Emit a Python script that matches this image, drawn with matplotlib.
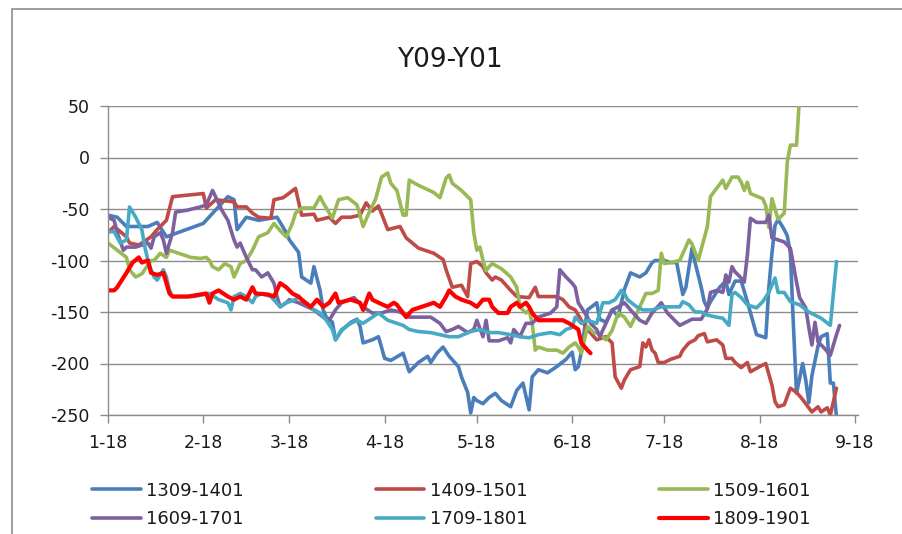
import numpy as np
import matplotlib.pyplot as plt
import matplotlib.dates as mdates
from matplotlib.patches import Rectangle
from matplotlib.ticker import FuncFormatter

plt.rcParams['axes.unicode_minus'] = False
plt.rcParams['font.family'] = 'DejaVu Sans'

# day 0 = 2018-01-18
start = np.datetime64('2018-01-18')

names = ['1309-1401', '1409-1501', '1509-1601', '1609-1701', '1709-1801', '1809-1901']
colors = ['#4A7EBB', '#BE4B48', '#98B954', '#7D60A0', '#46AAC5', '#FF0000']

days_1309 = [0, 3, 6, 13, 16, 19, 31, 39, 41, 42, 45, 49, 55, 58, 59, 62, 63, 66, 67, 69,
             70, 71, 73, 74, 76, 79, 81, 82, 83, 86, 88, 90, 92, 96, 98, 101, 104, 105, 107, 109,
             111, 114, 115, 117, 118, 119, 120, 122, 124, 126, 128, 131, 133, 135, 137, 138, 140, 143, 146, 149,
             151, 152, 153, 154, 155, 156, 159, 160, 162, 164, 166, 168, 170, 173, 175, 177, 178, 181, 183, 185,
             187, 188, 190, 191, 193, 194, 195, 196, 199, 201, 202, 204, 206, 208, 211, 214, 215, 216, 217, 218,
             220, 221, 222, 223, 224, 226, 227, 228, 229, 231, 232, 234, 235, 236, 237]
vals_1309 = [-56, -58, -67, -67, -63, -77, -64, -38, -41, -70, -58, -61, -58, -73, -80, -92, -116, -122, -106, -129,
             -148, -155, -160, -177, -168, -160, -157, -164, -180, -177, -174, -195, -197, -190, -208, -199, -193, -199, -190, -184,
             -193, -203, -213, -228, -248, -233, -236, -239, -233, -229, -236, -242, -226, -219, -245, -213, -206, -209, -203, -196,
             -189, -206, -203, -189, -167, -148, -141, -157, -160, -148, -154, -128, -112, -116, -112, -102, -100, -100, -102, -102,
             -133, -126, -88, -102, -126, -140, -146, -140, -126, -120, -133, -120, -120, -140, -172, -175, -126, -93, -66, -60,
             -70, -76, -93, -164, -229, -200, -216, -238, -212, -183, -174, -171, -219, -219, -252]

days_1409 = [0, 2, 6, 7, 10, 14, 16, 18, 19, 21, 31, 32, 35, 41, 42, 45, 47, 49, 53, 54,
             57, 61, 63, 67, 68, 72, 74, 76, 79, 82, 84, 86, 88, 91, 95, 97, 101, 106, 109, 110,
             112, 115, 117, 118, 120, 122, 123, 125, 126, 128, 131, 133, 137, 139, 140, 146, 148, 150, 152, 154,
             156, 159, 162, 164, 165, 167, 168, 170, 173, 174, 175, 176, 177, 178, 179, 181, 183, 186, 187, 189,
             191, 192, 194, 195, 198, 200, 201, 203, 204, 206, 208, 209, 212, 214, 216, 217, 218, 220, 222, 224,
             226, 228, 229, 231, 232, 234, 235, 237]
vals_1409 = [-73, -67, -77, -83, -85, -77, -70, -64, -61, -38, -35, -49, -41, -43, -48, -48, -54, -58, -59, -41,
             -39, -30, -56, -55, -61, -58, -64, -58, -58, -56, -44, -52, -47, -70, -67, -78, -88, -93, -99, -109,
             -126, -124, -135, -103, -101, -106, -112, -119, -116, -119, -129, -135, -136, -126, -135, -135, -138, -145, -148, -158,
             -167, -177, -174, -180, -213, -224, -216, -206, -203, -180, -184, -177, -187, -190, -199, -199, -196, -193, -187, -180,
             -177, -173, -171, -179, -177, -182, -195, -195, -199, -204, -199, -208, -203, -200, -221, -237, -242, -240, -224, -228,
             -235, -243, -247, -242, -247, -243, -250, -224]

days_1509 = [0, 3, 6, 7, 9, 11, 14, 15, 17, 19, 20, 23, 27, 30, 32, 33, 34, 36, 38, 40,
             41, 43, 45, 47, 49, 52, 54, 56, 58, 60, 61, 63, 67, 69, 70, 73, 75, 78, 81, 83,
             85, 87, 89, 91, 92, 94, 96, 97, 98, 101, 106, 108, 110, 111, 112, 115, 118, 119, 120, 121,
             122, 123, 124, 125, 128, 131, 133, 134, 136, 137, 138, 139, 140, 143, 146, 148, 150, 152, 153, 154,
             156, 158, 160, 162, 164, 166, 168, 170, 173, 175, 177, 179, 180, 181, 183, 186, 189, 190, 192, 195,
             196, 199, 200, 201, 203, 205, 206, 207, 208, 209, 213, 214, 215, 216, 218, 220, 221, 222, 224, 225]
vals_1509 = [-83, -90, -97, -109, -116, -113, -100, -100, -93, -97, -90, -93, -97, -98, -97, -100, -106, -109, -103, -106,
             -116, -103, -100, -90, -77, -73, -64, -71, -77, -64, -54, -49, -49, -38, -44, -59, -41, -39, -46, -67,
             -53, -41, -19, -15, -25, -32, -56, -56, -22, -27, -34, -39, -20, -17, -25, -32, -41, -73, -90, -87,
             -100, -110, -106, -103, -108, -116, -126, -145, -151, -148, -161, -187, -184, -187, -187, -190, -184, -180, -184, -190,
             -164, -170, -171, -177, -168, -151, -155, -164, -145, -132, -132, -129, -93, -103, -102, -100, -80, -84, -100, -67,
             -38, -26, -22, -30, -19, -19, -24, -32, -24, -35, -40, -47, -68, -40, -60, -54, -4, 12, 12, 60]

days_1609 = [0, 2, 3, 5, 6, 9, 13, 14, 15, 17, 18, 19, 21, 22, 26, 30, 32, 34, 35, 37,
             39, 41, 42, 43, 45, 47, 48, 50, 52, 54, 55, 56, 58, 59, 62, 67, 70, 72, 74, 76,
             80, 83, 86, 89, 92, 95, 98, 101, 105, 108, 110, 112, 114, 117, 119, 120, 122, 123, 124, 127,
             130, 131, 132, 134, 136, 138, 140, 144, 146, 147, 149, 151, 152, 153, 156, 157, 159, 160, 162, 164,
             166, 168, 170, 173, 175, 177, 180, 182, 186, 188, 190, 193, 195, 196, 198, 200, 201, 202, 203, 204,
             206, 207, 208, 209, 211, 214, 215, 216, 218, 220, 222, 224, 225, 227, 228, 229, 230, 231, 233, 235,
             237, 238]
vals_1609 = [-58, -61, -73, -90, -87, -87, -83, -88, -77, -73, -80, -93, -73, -53, -51, -48, -46, -32, -38, -51,
             -61, -80, -87, -83, -97, -109, -109, -116, -112, -122, -135, -145, -141, -138, -141, -148, -155, -158, -148, -141,
             -136, -145, -151, -151, -148, -150, -155, -155, -155, -161, -169, -167, -164, -170, -167, -158, -174, -158, -178, -178,
             -175, -180, -167, -174, -161, -161, -155, -151, -145, -109, -116, -122, -126, -141, -155, -161, -167, -174, -161, -148,
             -145, -141, -148, -158, -161, -151, -141, -151, -163, -160, -157, -157, -147, -131, -129, -131, -114, -121, -106, -111,
             -117, -121, -95, -59, -63, -63, -56, -78, -80, -82, -88, -121, -136, -146, -165, -182, -160, -179, -185, -192,
             -172, -163]

days_1709 = [0, 2, 4, 6, 7, 9, 11, 12, 13, 14, 15, 16, 18, 19, 20, 21, 28, 33, 36, 39,
             40, 41, 43, 45, 47, 48, 50, 53, 56, 58, 61, 62, 66, 69, 71, 73, 74, 76, 79, 81,
             83, 86, 88, 91, 94, 96, 98, 101, 105, 108, 111, 114, 118, 121, 124, 127, 131, 134, 137, 140,
             144, 147, 149, 151, 152, 154, 156, 159, 161, 163, 165, 167, 168, 169, 172, 174, 177, 180, 183, 186,
             187, 189, 191, 193, 195, 198, 200, 202, 203, 204, 206, 208, 211, 213, 215, 217, 218, 220, 222, 225,
             228, 230, 232, 235, 237]
vals_1709 = [-72, -72, -83, -80, -48, -58, -70, -87, -100, -109, -116, -119, -109, -116, -129, -135, -135, -132, -138, -141,
             -148, -135, -132, -135, -141, -135, -132, -135, -145, -141, -138, -135, -146, -151, -158, -167, -177, -167, -161, -158,
             -161, -155, -151, -158, -161, -163, -167, -169, -170, -172, -174, -174, -169, -167, -170, -170, -172, -174, -175, -172,
             -170, -172, -167, -165, -155, -161, -158, -161, -141, -141, -138, -129, -132, -138, -145, -148, -148, -145, -145, -145,
             -140, -143, -150, -150, -153, -155, -156, -163, -133, -131, -136, -143, -146, -140, -131, -117, -131, -131, -140, -143,
             -150, -153, -156, -163, -101]

days_1809 = [0, 2, 3, 6, 8, 10, 11, 13, 14, 16, 18, 19, 20, 21, 26, 30, 32, 33, 34, 36,
             39, 41, 43, 45, 47, 48, 52, 54, 56, 58, 60, 62, 63, 66, 68, 70, 72, 74, 75, 79,
             82, 83, 85, 86, 88, 91, 93, 94, 96, 97, 99, 102, 106, 108, 110, 111, 113, 115, 118, 120,
             122, 124, 125, 127, 130, 131, 133, 134, 136, 137, 138, 140, 144, 148, 150, 152, 153, 154, 156, 157]
vals_1809 = [-129, -129, -126, -112, -102, -97, -102, -100, -112, -114, -112, -122, -132, -135, -135, -133, -132, -141, -132, -129,
             -135, -138, -135, -138, -126, -132, -133, -135, -122, -126, -132, -135, -138, -145, -138, -145, -141, -132, -141, -138,
             -141, -148, -132, -138, -141, -145, -141, -143, -151, -155, -148, -145, -141, -145, -135, -129, -135, -138, -141, -145,
             -138, -138, -145, -151, -151, -145, -141, -145, -141, -145, -151, -158, -158, -158, -161, -165, -167, -180, -187, -190]

all_days = [days_1309, days_1409, days_1509, days_1609, days_1709, days_1809]
all_vals = [vals_1309, vals_1409, vals_1509, vals_1609, vals_1709, vals_1809]

y_ticks = [-250, -200, -150, -100, -50, 0, 50]
month_ticks = ['2018-01-18', '2018-02-18', '2018-03-18', '2018-04-18', '2018-05-18',
               '2018-06-18', '2018-07-18', '2018-08-18', '2018-09-18']

fig = plt.figure(figsize=(9.02, 5.34), dpi=100)
ax = fig.add_axes([108 / 902, 1 - 415 / 534, 750 / 902, 309 / 534])

lines = []
for i in range(len(names)):
    x = start + np.array(all_days[i]).astype('timedelta64[D]')
    lw = 3.0 if i == 5 else 2.6
    ln, = ax.plot(x, all_vals[i], color=colors[i], lw=lw, label=names[i],
                  solid_joinstyle='round', solid_capstyle='round')
    lines.append(ln)

ax.set_ylim(-250, 50)
ax.set_yticks(y_ticks)
xt = [np.datetime64(d) for d in month_ticks]
ax.set_xlim(start, start + np.timedelta64(244, 'D'))
ax.set_xticks(xt)
ax.xaxis.set_major_formatter(FuncFormatter(
    lambda v, p: '{}-{}'.format(mdates.num2date(v).month, mdates.num2date(v).day)))

ax.grid(axis='y', color='#8C8C8C', lw=1.0)
ax.set_axisbelow(True)
for s in ['top', 'right']:
    ax.spines[s].set_visible(False)
for s in ['left', 'bottom']:
    ax.spines[s].set_color('#8C8C8C')
    ax.spines[s].set_linewidth(1.0)
ax.tick_params(direction='out', length=6, width=1.0, color='#8C8C8C',
               labelsize=12.5, labelcolor='#1a1a1a')
ax.tick_params(axis='y', pad=7)
ax.tick_params(axis='x', pad=8)

fig.text(450 / 902, 1 - 60 / 534, 'Y09-Y01', ha='center', va='center',
         fontsize=19, color='#1a1a1a')

# chart border
fig.add_artist(Rectangle((12 / 902, -0.1), 1.2, 1.1 - 9 / 534 + 0.0,
                         transform=fig.transFigure, fill=False,
                         edgecolor='#8C8C8C', lw=1.2))

order = [0, 3, 1, 4, 2, 5]
fig.legend([lines[k] for k in order], [names[k] for k in order], ncol=3,
           loc='center left', bbox_to_anchor=(92 / 902, 1 - 505 / 534),
           frameon=False, fontsize=13, handlelength=2.7, handletextpad=0.3,
           columnspacing=7.3, labelspacing=0.6, borderpad=0, borderaxespad=0,
           labelcolor='#1a1a1a')

fig.savefig('out.png', dpi=100)
